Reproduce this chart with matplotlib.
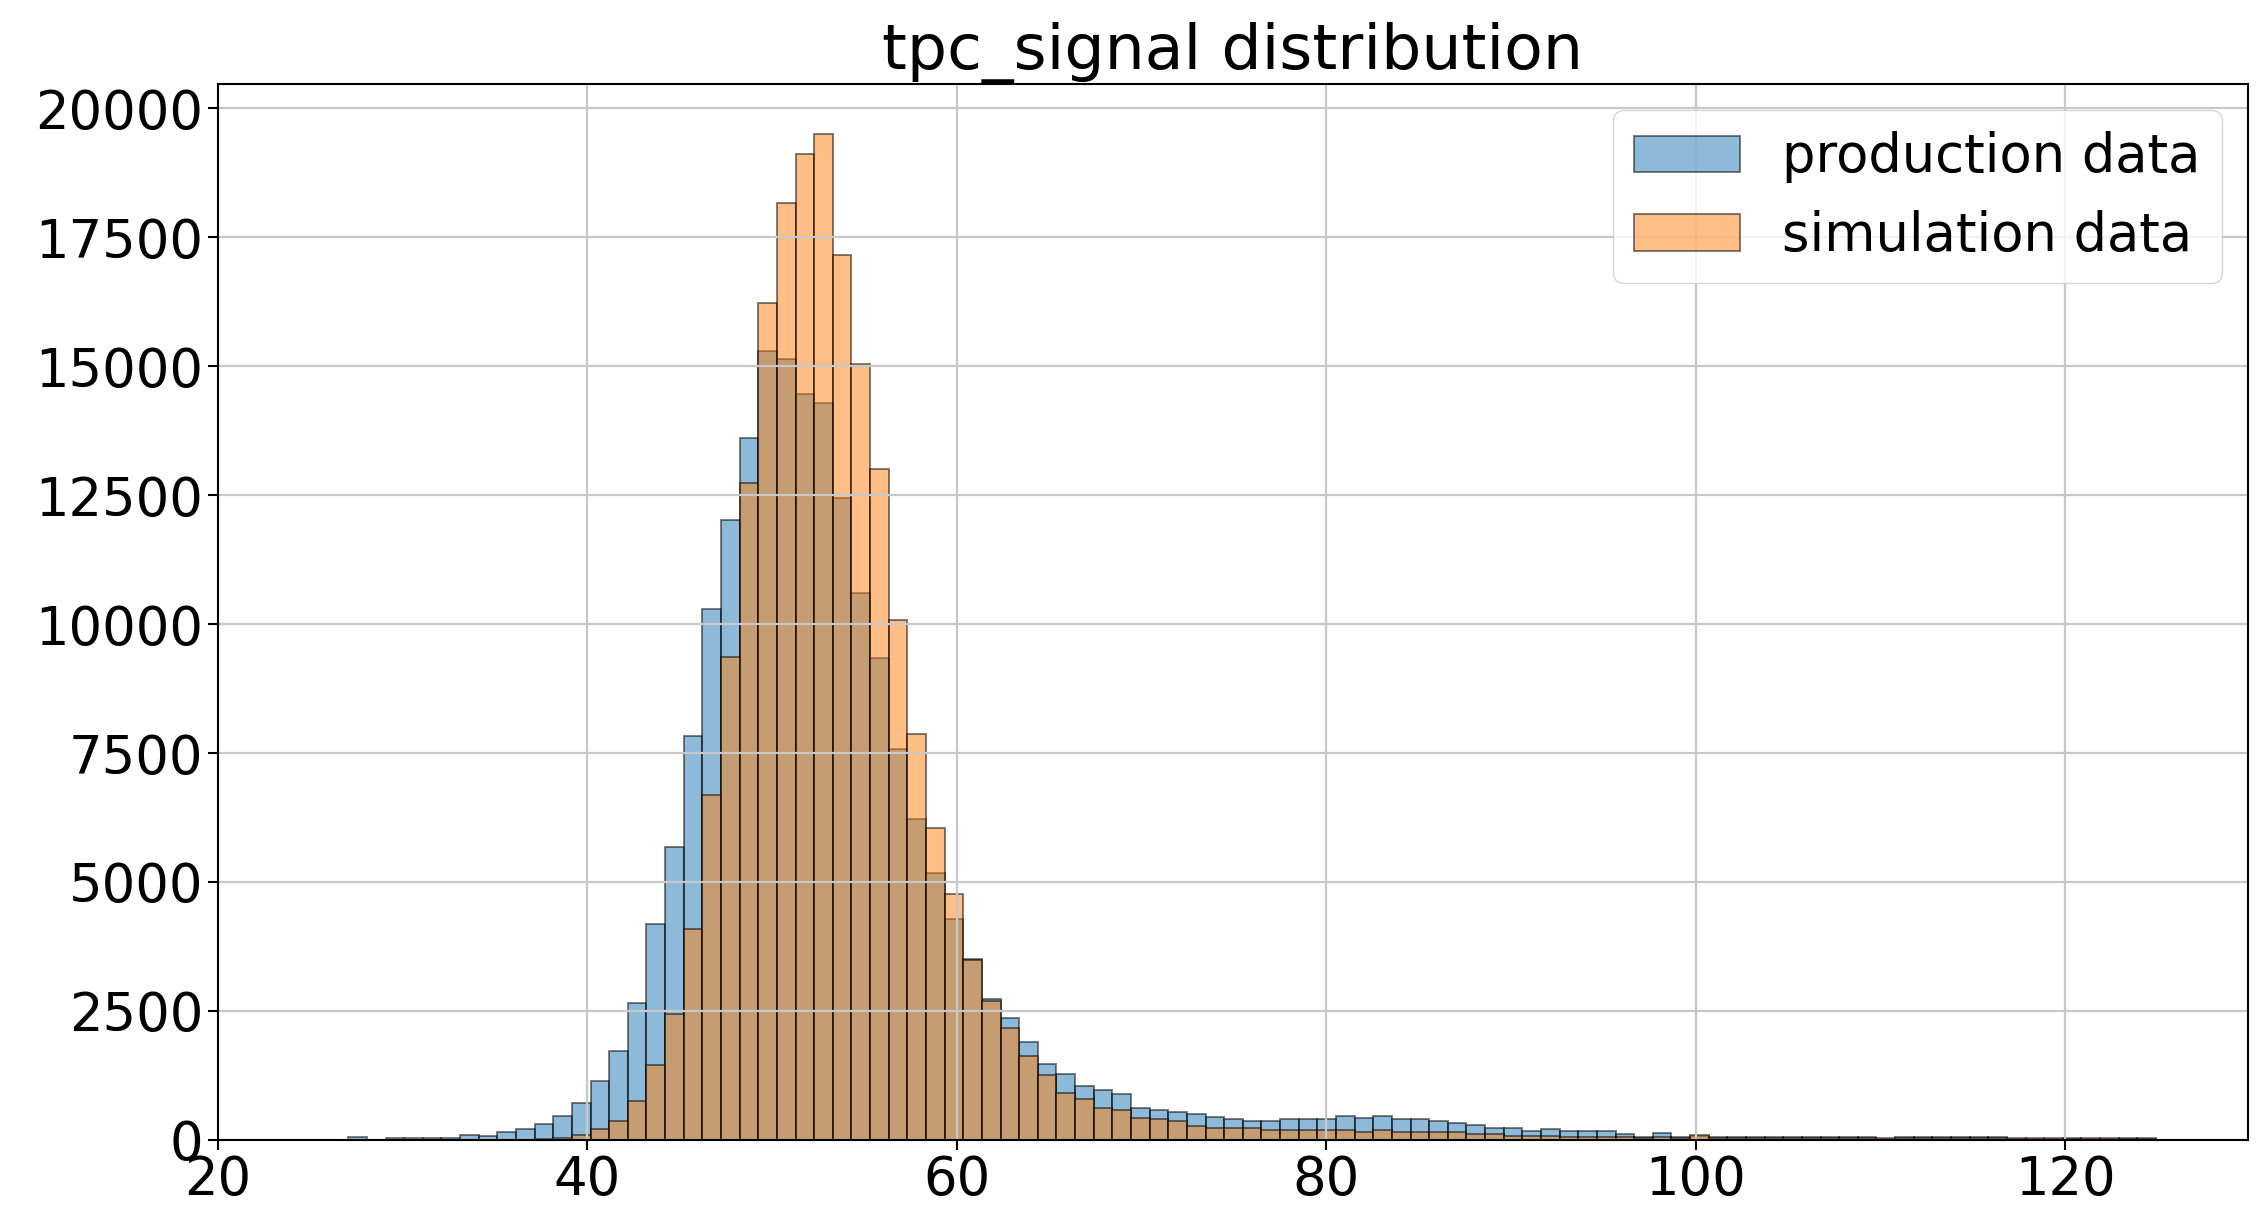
import numpy as np
import matplotlib
matplotlib.use('Agg')
import matplotlib.pyplot as plt

# Histogram counts per bin (100 bins, same edges for both samples)
bin_start = 24.03
bin_width = 1.0089
n_bins = 100

production_counts = [
    0, 0, 0, 45, 0, 39, 39, 39, 39, 90,
    77, 142, 206, 303, 470, 721, 1146, 1726, 2660, 4180,
    5681, 7826, 10296, 12025, 13611, 15301, 15145, 14469, 14287, 12454,
    10595, 9334, 7579, 6227, 5174, 4290, 3505, 2737, 2370, 1900,
    1468, 1269, 1050, 966, 882, 625, 580, 547, 502, 451,
    406, 367, 367, 412, 412, 412, 464, 419, 464, 412,
    412, 367, 335, 290, 238, 238, 174, 206, 174, 174,
    174, 116, 64, 124, 60, 70, 60, 55, 55, 55,
    55, 55, 55, 55, 55, 10, 55, 55, 55, 55,
    55, 55, 20, 20, 20, 35, 20, 20, 35, 35,
]

simulation_counts = [
    0, 0, 0, 0, 0, 0, 0, 0, 0, 0,
    0, 0, 0, 10, 30, 85, 205, 370, 748, 1460,
    2440, 4095, 6682, 9360, 12740, 16224, 18174, 19110, 19500, 17160,
    15041, 13000, 10075, 7878, 6045, 4771, 3495, 2692, 2177, 1629,
    1256, 914, 786, 625, 580, 419, 406, 367, 277, 225,
    225, 225, 193, 193, 193, 193, 193, 161, 193, 161,
    161, 161, 161, 116, 116, 77, 77, 77, 64, 64,
    52, 52, 40, 59, 40, 100, 40, 40, 40, 40,
    40, 40, 40, 40, 40, 30, 35, 35, 35, 35,
    35, 35, 30, 30, 30, 10, 30, 30, 10, 10,
]

labels = ['production data', 'simulation data']

edges = bin_start + bin_width * np.arange(n_bins + 1)
centers = 0.5 * (edges[:-1] + edges[1:])

plt.rcParams['font.size'] = 38

fig = plt.figure(figsize=(22.65, 12.05), dpi=100)
ax = fig.add_axes([0.0962, 0.0541, 0.8963, 0.8762])

ax.hist(centers, bins=edges, weights=production_counts, alpha=0.5,
        edgecolor='black', linewidth=1.4, label=labels[0])
ax.hist(centers, bins=edges, weights=simulation_counts, alpha=0.5,
        edgecolor='black', linewidth=1.4, label=labels[1])

ax.set_xlim(20, 129.9)
ax.set_title('tpc_signal distribution', fontsize=45.6)
ax.grid(True, color='#c8c8c8', linewidth=1.6)
ax.tick_params(length=7, width=1.5)
for s in ax.spines.values():
    s.set_linewidth(1.5)

ax.legend(loc='upper right')

plt.savefig('out.png', dpi=100)
